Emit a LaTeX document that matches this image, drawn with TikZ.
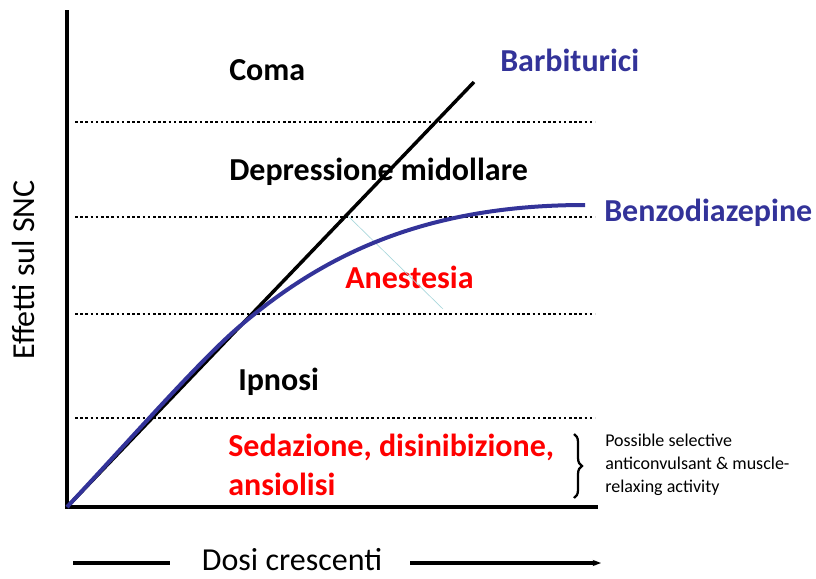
\documentclass[tikz,border=0pt]{standalone}
\usepackage{fontspec}
\setmainfont{Carlito}
\usetikzlibrary{arrows.meta, decorations.pathreplacing}

\definecolor{drugblue}{RGB}{51,51,153}
\definecolor{hintcyan}{RGB}{170,215,220}

\begin{document}
\begin{tikzpicture}[
  x=0.75pt, y=-0.75pt,
  >={Stealth[length=2.2mm]},
  axis/.style={line width=2.6pt, black},
  level/.style={line width=1.9pt, dotted, black},
  zone/.style={font=\fontsize{24}{28}\selectfont\bfseries, anchor=west, inner sep=0pt},
  redzone/.style={zone, text=red},
  drug/.style={font=\fontsize{24}{28}\selectfont\bfseries, text=drugblue, anchor=west, inner sep=0pt},
  axlabel/.style={font=\fontsize{24}{28}\selectfont, inner sep=0pt},
  note/.style={font=\fontsize{13.5}{17.2}\selectfont, align=left, anchor=west, inner sep=0pt}
]
\useasboundingbox (0,0) rectangle (816,578);

% axes
\coordinate (origin) at (67,507);
\coordinate (ytop)   at (67,10);
\coordinate (xend)   at (598,507);
\draw[axis] (ytop) -- (origin) -- (xend);

% level separators
\foreach \yy/\nm in {122/lvA, 217/lvB, 314/lvC, 418/lvD} {
  \coordinate (\nm L) at (75,\yy);
  \coordinate (\nm R) at (595,\yy);
  \draw[level] (\nm L) -- (\nm R);
}

% zone labels
\node[zone]    (coma)   at (229,70)  {Coma};
\node[zone]    (depr)   at (229,172) {Depressione midollare};
\node[redzone] (anest)  at (345,277) {Anestesia};
\node[zone]    (ipnosi) at (238,382) {Ipnosi};
\node[redzone] (sedaz)  at (228,447) {Sedazione, disinibizione,};
\node[redzone] (ansiol) at (228,484) {ansiolisi};

% thin guide line
\coordinate (guideA) at (348,216);
\coordinate (guideB) at (443,309);
\draw[hintcyan, line width=0.5pt] (guideA) -- (guideB);

% barbiturates: straight line
\coordinate (barbEnd) at (474,82);
\draw[line width=2.6pt, black] (origin) -- (barbEnd);

% benzodiazepines: saturating curve
\coordinate (bzMid) at (240,326);
\coordinate (bzEnd) at (585,205);
\draw[line width=3pt, drugblue] (origin) .. controls (130,440) and (200,360) .. (bzMid)
  .. controls (320,258) and (420,205) .. (bzEnd);

\node[drug] (barb)  at (500,60)  {Barbiturici};
\node[drug] (benzo) at (604,213) {Benzodiazepine};

% brace and side note
\coordinate (braceTop) at (574,434);
\coordinate (braceBot) at (574,498);
\draw[line width=1.7pt, decorate, decoration={brace, amplitude=6pt}] (braceTop) -- (braceBot);
\node[note] (selective) at (605,465) {Possible selective\\anticonvulsant \& muscle-\\relaxing activity};

% axis labels
\node[axlabel, rotate=90] (effetti) at (24,270) {Effetti sul SNC};
\node[axlabel] (dosi) at (292,560) {Dosi crescenti};
\coordinate (dosiL) at (73,563);
\coordinate (dosiR) at (170,563);
\coordinate (dosiA) at (410,563);
\coordinate (dosiB) at (601,563);
\draw[line width=2.4pt] (dosiL) -- (dosiR);
\draw[->, line width=2.4pt] (dosiA) -- (dosiB);

\end{tikzpicture}
\end{document}
